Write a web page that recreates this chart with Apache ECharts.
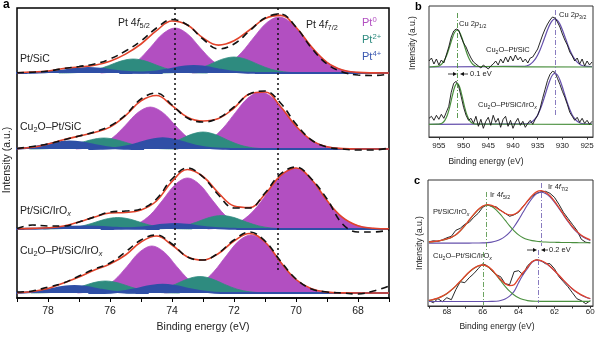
<!DOCTYPE html>
<html><head><meta charset="utf-8">
<script src="https://cdn.jsdelivr.net/npm/echarts/dist/echarts.min.js"></script>
<style>html,body{margin:0;padding:0;background:#fff}#c{width:600px;height:337px}</style>
</head><body><div id="c"></div>
<script>
// ---------- Panel a : Pt 4f ----------
const energyA = [79,78.5,78,77.5,77,76.5,76,75.5,75,74.5,74,73.5,73,72.5,72,71.5,71,70.5,70,69.5,69,68.5,68,67.5,67];
const ticksA = [67,68,69,70,71,72,73,74,75,76,77,78,79];
const labelsA = [68,70,72,74,76,78];
const namesA = ['Pt/SiC','Cu2O–Pt/SiC','Pt/SiC/IrOx','Cu2O–Pt/SiC/IrOx'];
const refLinesA = [73.9, 70.6];

const s1Raw = [0.3,0.8,2,4.5,6.5,9,14,22,32,45,53.5,48,34,24,29,42,55,59,46,25,9,1,-2,-2.5,-1];
const s1Fit = [0.3,1,2,4.5,6,7.7,11.8,18.9,29,42.3,52,48,35.1,27.9,32.2,43,54.4,57.6,45.7,26.1,10.7,3.1,0.6,0.1,0];
const s1Pt0a = [[76.3,75.9,75.5,75.1,74.7,74.3,73.9,73.5,73.1,72.7,72.3,71.9,71.5],[0,1.3,4.6,12.5,25.5,39.1,45,39.1,25.5,12.5,4.6,1.3,0]];
const s1Pt0b = [[73.35,72.95,72.55,72.15,71.75,71.35,70.95,70.55,70.15,69.75,69.35,68.95,68.55,68.15,67.75],[0,1.1,3.5,9.5,20.7,36,50.1,56,50.1,36,20.7,9.5,3.5,1.1,0]];
const s1Pt2a = [[77.65,77.25,76.85,76.45,76.05,75.65,75.25,74.85,74.45,74.05,73.65,73.25,72.85],[0,0.2,1,3.2,7.3,11.9,14,11.9,7.3,3.2,1,0.2,0]];
const s1Pt2b = [[74.4,74,73.6,73.2,72.8,72.4,72,71.6,71.2,70.8,70.4,70,69.6],[0,0.3,1.2,3.7,8.3,13.6,16,13.6,8.3,3.7,1.2,0.3,0]];
const s1Pt4a = [[79.1,78.7,78.3,77.9,77.5,77.1,76.7,76.3,75.9,75.5,75.1,74.7,74.3],[0,0.1,0.4,1.2,2.6,4.2,5,4.2,2.6,1.2,0.4,0.1,0]];
const s1Pt4b = [[75.7,75.3,74.9,74.5,74.1,73.7,73.3,72.9,72.5,72.1,71.7,71.3,70.9,67],[0,0.1,0.5,1.6,3.6,5.9,7,5.9,3.6,1.6,0.5,0.1,0,0]];

const s2Raw = [0.5,2.5,5,9,13,17,23,34,50,56,44,31,27,31,42,55,58,46,25,9,2,0,-1,-1,1];
const s2Fit = [0.4,1.8,5,9.2,12.9,16.4,21.9,33.3,48.1,53.5,43.4,31.8,28,30.4,41,55,57,42.5,22.8,8.7,2.3,0.4,0,0,0];
const s2Pt0a = [[77.1,76.7,76.3,75.9,75.5,75.1,74.7,74.3,73.9,73.5,73.1,72.7,72.3],[0,1.2,4.3,11.7,23.8,36.5,42,36.5,23.8,11.7,4.3,1.2,0]];
const s2Pt0b = [[73.95,73.55,73.15,72.75,72.35,71.95,71.55,71.15,70.75,70.35,69.95,69.55,69.15,68.75,68.35],[0,1.1,3.6,9.7,21,36.6,51,57,51,36.6,21,9.7,3.6,1.1,0]];
const s2Pt2a = [[78.6,78.2,77.8,77.4,77,76.6,76.2,75.8,75.4,75,74.6,74.2,73.8],[0,0.2,0.8,2.5,5.7,9.3,11,9.3,5.7,2.5,0.8,0.2,0]];
const s2Pt2b = [[75.4,75,74.6,74.2,73.8,73.4,73,72.6,72.2,71.8,71.4,71,70.6],[0,0.3,1.2,3.9,8.8,14.4,17,14.4,8.8,3.9,1.2,0.3,0]];
const s2Pt4a = [[79.7,79.3,78.9,78.5,78.1,77.7,77.3,76.9,76.5,76.1,75.7,75.3,74.9],[0,0.1,0.5,1.7,3.9,6.4,7.5,6.4,3.9,1.7,0.5,0.1,0]];
const s2Pt4b = [[76.7,76.3,75.9,75.5,75.1,74.7,74.3,73.9,73.5,73.1,72.7,72.3,71.9,67],[0,0.2,0.8,2.5,5.6,9.1,10.7,9.1,5.6,2.5,0.8,0.2,0,0]];

const s3Raw = [0.5,4,3,3,7,12,17,18,20,30,50,61,52,34,21,21,36,55,62,50,30,5,-3,-3,-1];
const s3Fit = [0.3,0.6,1.2,3,7,12,16,16.5,19,28,47.5,59.5,52.5,36,23,21.5,34.7,53.3,61,49.5,28.4,11.6,3.3,0.7,0.1];
const s3Pt0a = [[75.9,75.5,75.1,74.7,74.3,73.9,73.5,73.1,72.7,72.3,71.9,71.5,71.1],[0,1.5,5.3,14.2,28.9,44.3,51,44.3,28.9,14.2,5.3,1.5,0]];
const s3Pt0b = [[72.85,72.45,72.05,71.65,71.25,70.85,70.45,70.05,69.65,69.25,68.85,68.45,68.05,67.65,67.25],[0,1.2,3.8,10.4,22.5,39.2,54.6,61,54.6,39.2,22.5,10.4,3.8,1.2,0]];
const s3Pt2a = [[78.15,77.75,77.35,76.95,76.55,76.15,75.75,75.35,74.95,74.55,74.15,73.75,73.35],[0,0.2,0.8,2.6,6,9.8,11.5,9.8,6,2.6,0.8,0.2,0]];
const s3Pt2b = [[74.8,74.4,74,73.6,73.2,72.8,72.4,72,71.6,71.2,70.8,70.4,70],[0,0.2,1,3.1,7,11.5,13.5,11.5,7,3.1,1,0.2,0]];
const s3Pt4a = [[79.2,78.8,78.4,78,77.6,77.2,76.8,76.4,76,75.6,75.2,74.8,74.4],[0,0.1,0.3,0.8,1.6,2.2,2.5,2.2,1.6,0.8,0.3,0.1,0]];
const s3Pt4b = [[76.3,75.9,75.5,75.1,74.7,74.3,73.9,73.5,73.1,72.7,72.3,71.9,71.5,67],[0,0.1,0.4,1.2,2.6,4.2,5,4.2,2.6,1.2,0.4,0.1,0,0]];

const s4Raw = [1,2,6,10,17,24,30,41,53,58,49,36,33,40,53,61,52,32,14,4,1,0,-1,2,7];
const s4Fit = [0.2,1.5,4.5,10,16,23,29,38,51,57,48,36,33,39.5,52,59.5,51,31,13.5,4.2,0.9,0.1,0,0,0];
const s4Pt0a = [[77.05,76.65,76.25,75.85,75.45,75.05,74.65,74.25,73.85,73.45,73.05,72.65,72.25],[0,1.4,4.8,13.1,26.6,40.8,47,40.8,26.6,13.1,4.8,1.4,0]];
const s4Pt0b = [[74.25,73.85,73.45,73.05,72.65,72.25,71.85,71.45,71.05,70.65,70.25,69.85,69.45,69.05,68.65],[0,1.1,3.7,9.9,21.4,37.2,51.9,58,51.9,37.2,21.4,9.9,3.7,1.1,0]];
const s4Pt2a = [[78.55,78.15,77.75,77.35,76.95,76.55,76.15,75.75,75.35,74.95,74.55,74.15,73.75],[0,0.2,0.9,2.8,6.2,10.2,12,10.2,6.2,2.8,0.9,0.2,0]];
const s4Pt2b = [[75.5,75.1,74.7,74.3,73.9,73.5,73.1,72.7,72.3,71.9,71.5,71.1,70.7],[0,0.3,1.2,3.8,8.6,14,16.5,14,8.6,3.8,1.2,0.3,0]];
const s4Pt4a = [[79.55,79.15,78.75,78.35,77.95,77.55,77.15,76.75,76.35,75.95,75.55,75.15,74.75],[0,0.1,0.5,1.6,3.6,5.9,7,5.9,3.6,1.6,0.5,0.1,0]];
const s4Pt4b = [[76.7,76.3,75.9,75.5,75.1,74.7,74.3,73.9,73.5,73.1,72.7,72.3,71.9,67],[0,0.1,0.6,1.9,4.3,7,8.3,7,4.3,1.9,0.6,0.1,0,0]];

// ---------- Panel b : Cu 2p ----------
const energyB = [957,956.5,956,955.5,955,954.5,954,953.5,953,952.5,952,951.5,951,950.5,950,949.5,949,948.5,948,947.5,947,946.5,946,945.5,945,944.5,944,943.5,943,942.5,942,941.5,941,940.5,940,939.5,939,938.5,938,937.5,937,936.5,936,935.5,935,934.5,934,933.5,933,932.5,932,931.5,931,930.5,930,929.5,929,928.5,928,927.5,927,926.5,926,925.5,925,924.5,924];
const labelsB = [925,930,935,940,945,950,955];
const refLinesB = [951.3, 931.5];
const bTopRaw = [6,9,3,8,2,7,4,12,20,30, 36,38,37,30,24,20,14,9,5,3, 1,-1,2,0,-2,1,3,6,2,8, 4,10,5,11,6,12,7,10,5,8, 4,9,10,14,18,25,32,38,43,47, 50,49,45,40,33,27,22,15,11,6, 9,3,8,1,6,2,5];
const bBotRaw = [6,8,4,9,5,10,6,12,18,32, 41,43,38,28,17,9,4,6,1,8, -2,5,-4,3,7,-1,9,2,6,-3, 5,8,-2,4,-4,2,6,-1,3,-3, 1,4,0,5,9,16,26,35,44,50, 53,52,46,40,33,27,20,12,8,4, 7,2,6,1,4,0,3];
const bTopP12 = [[957,955.3,954.8,954.3,953.8,953.3,952.8,952.3,951.8,951.3,950.8,950.3,949.8,949.3,948.8,948.3,947.8,947.3,924],[0,0.6,1.6,3.7,7.5,13.3,20.8,28.7,34.7,37,34.7,28.7,20.8,13.3,7.5,3.7,1.6,0.6,0]];
const bBotP12 = [[957,955.3,954.8,954.3,953.8,953.3,952.8,952.3,951.8,951.3,950.8,950.3,949.8,949.3,948.8,948.3,947.8,947.3,924],[0,0.1,0.4,1.4,3.9,9,17.5,28.1,37.3,41,37.3,28.1,17.5,9,3.9,1.4,0.4,0.1,0]];
const bTopP32 = [[957,937.5,937,936.5,936,935.5,935,934.5,934,933.5,933,932.5,932,931.5,931,930.5,930,929.5,929,928.5,928,927.5,927,926.5,926,925.5,924],[0,0.8,1.5,2.8,4.8,7.8,12,17.3,23.6,30.5,37.2,42.9,46.7,48,46.7,42.9,37.2,30.5,23.6,17.3,12,7.8,4.8,2.8,1.5,0.8,0.5]];
const bBotP32 = [[957,937.5,937,936.5,936,935.5,935,934.5,934,933.5,933,932.5,932,931.5,931,930.5,930,929.5,929,928.5,928,927.5,927,926.5,926,925.5,924],[0,0.4,0.8,1.6,3.1,5.6,9.3,14.7,21.5,29.3,37.3,44.4,49.3,51,49.3,44.4,37.3,29.3,21.5,14.7,9.3,5.6,3.1,1.6,0.8,0.4,0.2]];

// ---------- Panel c : Ir 4f ----------
const energyC = [69,68.75,68.5,68.25,68,67.75,67.5,67.25,67,66.75,66.5,66.25,66,65.75,65.5,65.25,65,64.75,64.5,64.25,64,63.75,63.5,63.25,63,62.75,62.5,62.25,62,61.75,61.5,61.25,61,60.75,60.5,60.25,60];
const labelsC = [60,62,64,66,68];
const ticksC = [60,61,62,63,64,65,66,67,68,69];
const cTopRaw = [1.5,2.5,2,3.5,5.5,7,13,15,19,21, 26,30,36,38.5,37,36.5,33,30,27,28.5, 31,37,42,47,50,51.5,52,50,46,39, 31,25,19,13,4,1,0.5];
const cTopFit = [1.4,1.8,2.3,3.2,4.4,6,8.6,12.6,17.6,23.3, 29,33.8,37.2,38.7,38,35.7,32.8,30,28.4,29, 31.8,36.6,42.3,47.7,51.4,52.6,51.1,47.5,42.2,35.8, 29.1,22.6,16.7,11.9,8.1,5.4,3.4];
const cTopIr52 = [1.2,1.6,2.1,3,4.2,5.8,8.4,12.4,17.4,23.1, 28.7,33.5,36.8,38,36.8,33.5,28.7,23.1,17.4,12.4, 8.4,5.6,3.8,2.7,2,1.6,1.3,1.1,1,0.9, 0.8,0.75,0.7,0.65,0.6,0.55,0.5];
const cTopIr72 = [0.2,0.2,0.2,0.2,0.2,0.2,0.2,0.2,0.2,0.2, 0.25,0.3,0.4,0.7,1.2,2.2,4.1,6.9,11,16.6, 23.4,31,38.5,45,49.4,51,49.8,46.4,41.2,34.9, 28.3,21.8,16,11.2,7.5,4.8,2.9];
const cBotRaw = [1,-1,3,0,4,2,12,20,19,24, 28,33,38,36,31,27,25,18,17,30, 31,27,36,40,42,41,38,38,33,25, 20,15,9,3,1,-2,1];
const cBotFit = [1.4,2.3,3.6,5.6,8.2,11.7,15.8,20.4,25.2,29.7, 33.4,35.9,36.7,35.5,32.1,27.2,22.2,18.1,16.1,17, 23,29.2,34.3,39.9,41.9,41.1,38.9,35.5,31.2,26.4, 21.6,17.1,13,9.6,6.8,4.7,3.2];
const cBotIr52 = [1.2,2.1,3.4,5.4,8,11.5,15.6,20.2,25,29.5, 33.2,35.7,36.5,35.3,31.8,26.7,21,15.4,10.5,6.7, 4,2.2,1.1,0.6,0.4,0.3,0.3,0.3,0.3,0.3, 0.3,0.3,0.3,0.3,0.3,0.3,0.3];
const cBotIr72 = [0.2,0.2,0.2,0.2,0.2,0.2,0.2,0.2,0.2,0.2, 0.2,0.2,0.2,0.2,0.3,0.5,1.2,2.7,5.6,10.3, 19,27,33.2,39.3,41.5,40.8,38.6,35.2,30.9,26.1, 21.3,16.8,12.7,9.3,6.5,4.4,2.9];
const refLinesC = [[65.8,114,54],[62.75,123,60],[65.95,54,1],[62.9,56,3]];

// ---------- styling / layout ----------
const FONT = '"Liberation Sans", Arial, Helvetica, sans-serif';
const MAG = '#b24fc1', TEAL = '#2e8b7f', BLUE = '#2f4fa6', RED = '#e2432a';
const GRN = '#4a8f3e', PUR = '#6550ac';
const offA = [225, 149, 69, 5];
const offB = [70, 12.7];
const offC = [62.7, 4.3];

function zip(xs, ys, off) { return xs.map((x, i) => [x, ys[i] + off]); }
function areaS(g, comp, off, color, z, lw) {
  return {type:'line', xAxisIndex:g, yAxisIndex:g, data:zip(comp[0], comp[1], off), smooth:0.35,
    symbol:'none', z:z, silent:true, lineStyle:{color:color, width:lw||0.8},
    areaStyle:{color:color, opacity:1, origin:off}};
}
function lineS(g, xs, ys, off, color, width, type, z, smooth) {
  return {type:'line', xAxisIndex:g, yAxisIndex:g, data:zip(xs, ys, off), smooth:smooth, symbol:'none',
    z:z, silent:true, lineStyle:{color:color, width:width, type:type||'solid'}};
}

const series = [];
const specA = [
  [s1Raw, s1Fit, s1Pt0a, s1Pt0b, s1Pt2a, s1Pt2b, s1Pt4a, s1Pt4b],
  [s2Raw, s2Fit, s2Pt0a, s2Pt0b, s2Pt2a, s2Pt2b, s2Pt4a, s2Pt4b],
  [s3Raw, s3Fit, s3Pt0a, s3Pt0b, s3Pt2a, s3Pt2b, s3Pt4a, s3Pt4b],
  [s4Raw, s4Fit, s4Pt0a, s4Pt0b, s4Pt2a, s4Pt2b, s4Pt4a, s4Pt4b]
];
specA.forEach((s, k) => {
  const o = offA[k];
  series.push(areaS(0, s[2], o, MAG, 2));
  series.push(areaS(0, s[3], o, MAG, 2));
  series.push(areaS(0, s[4], o, TEAL, 3));
  series.push(areaS(0, s[5], o, TEAL, 3));
  series.push(areaS(0, s[6], o, BLUE, 4, 2));
  series.push(areaS(0, s[7], o, BLUE, 4, 2));
  series.push(lineS(0, energyA, s[1], o, RED, 1.6, 'solid', 5, 0.4));
  series.push(lineS(0, energyA, s[0], o, '#111', 1.6, [7,5], 6, 0.4));
});
series.push({type:'line', xAxisIndex:0, yAxisIndex:0, data:[], z:8, silent:true,
  markLine:{symbol:'none', silent:true, label:{show:false}, animation:false,
    lineStyle:{type:[2,3], color:'#111', width:1.5},
    data:[[{coord:[refLinesA[0],290]},{coord:[refLinesA[0],51]}],[{coord:[refLinesA[1],290]},{coord:[refLinesA[1],28]}]]}});

// panel b
[[bTopRaw, bTopP12, bTopP32],[bBotRaw, bBotP12, bBotP32]].forEach((s, k) => {
  const o = offB[k];
  series.push(lineS(1, s[2][0], s[2][1], o, PUR, 1.2, 'solid', 3, 0.3));
  series.push(lineS(1, s[1][0], s[1][1], o, GRN, 1.2, 'solid', 3, 0.3));
  series.push(lineS(1, energyB, s[0], o, '#111', 0.9, 'solid', 4, false));
});
series.push({type:'line', xAxisIndex:1, yAxisIndex:1, data:[], z:6, silent:true,
  markLine:{symbol:'none', silent:true, label:{show:false}, animation:false,
    data:[[{coord:[refLinesB[0],124], lineStyle:{color:GRN}},{coord:[refLinesB[0],17]}],
          [{coord:[refLinesB[1],127], lineStyle:{color:'#7a6cb8'}},{coord:[refLinesB[1],20]}]],
    lineStyle:{type:[5,2,1,2], width:0.9}}});

// panel c
[[cTopRaw, cTopFit, cTopIr52, cTopIr72],[cBotRaw, cBotFit, cBotIr52, cBotIr72]].forEach((s, k) => {
  const o = offC[k];
  series.push(lineS(2, energyC, s[0], o, '#111', 0.9, 'solid', 3, false));
  series.push(lineS(2, energyC, s[3], o, PUR, 1.1, 'solid', 4, 0.3));
  series.push(lineS(2, energyC, s[2], o, GRN, 1.1, 'solid', 4, 0.3));
  series.push(lineS(2, energyC, s[1], o, RED, 1.3, 'solid', 5, 0.3));
});
series.push({type:'line', xAxisIndex:2, yAxisIndex:2, data:[], z:6, silent:true,
  markLine:{symbol:'none', silent:true, label:{show:false}, animation:false,
    lineStyle:{type:[5,2,1,2], width:0.9},
    data: refLinesC.map((r, i) => [{coord:[r[0], r[1]], lineStyle:{color: i % 2 === 0 ? '#5c9a50' : '#7a6cb8'}},{coord:[r[0], r[2]]}])}});

function xAx(g, min, max, ticks, labels, fs, margin, tickLen) {
  return {gridIndex:g, type:'value', min:min, max:max, inverse:true,
    axisLine:{show:true, lineStyle:{color:g===0?'#000':'#333', width:g===0?1.5:1}},
    axisTick:{show:true, customValues:ticks, length:tickLen, lineStyle:{color:g===0?'#000':'#333', width:1}},
    axisLabel:{customValues:labels, fontSize:fs, fontFamily:FONT, color:'#222', margin:margin},
    splitLine:{show:false}};
}
function yAx(g, max) { return {gridIndex:g, type:'value', min:0, max:max, show:false}; }

function rich(size, color) {
  return {
    b:{fontSize:size, fontFamily:FONT, fill:color, lineHeight:size*1.3},
    i:{fontSize:size, fontFamily:FONT, fontStyle:'italic', fill:color, lineHeight:size*1.3},
    sub:{fontSize:size*0.7, fontFamily:FONT, fill:color, lineHeight:size*0.75, verticalAlign:'bottom'},
    subi:{fontSize:size*0.7, fontFamily:FONT, fontStyle:'italic', fill:color, lineHeight:size*0.75, verticalAlign:'bottom'},
    sup:{fontSize:size*0.7, fontFamily:FONT, fill:color, lineHeight:size*0.75, verticalAlign:'top'}
  };
}
function txt(x, y, text, size, color, opt) {
  opt = opt || {};
  return {type:'text', x:x, y:y, z:100, silent:true, rotation:opt.rot || 0,
    style:{text:text, fontSize:size, fontFamily:FONT, fontWeight:opt.bold ? 'bold' : 'normal',
      fill:color, align:opt.align || 'left', verticalAlign:'middle', rich:rich(size, color)}};
}
function arrow(x1, x2, y) {
  const d = x2 > x1 ? 1 : -1;
  return [
    {type:'line', z:100, silent:true, shape:{x1:x1, y1:y, x2:x2 - d*3, y2:y}, style:{stroke:'#111', lineWidth:0.8}},
    {type:'polygon', z:100, silent:true, shape:{points:[[x2, y],[x2 - d*4, y - 2],[x2 - d*4, y + 2]]}, style:{fill:'#111'}}
  ];
}

const LA = 10.5, LB = 7.5;
const graphic = [
  txt(3, 5, 'a', 12, '#000', {bold:true}),
  txt(415, 7, 'b', 11, '#000', {bold:true}),
  txt(414, 181, 'c', 11, '#000', {bold:true}),
  txt(20, 59, '{b|' + namesA[0] + '}', LA, '#222'),
  txt(20, 127, '{b|Cu}{sub|2}{b|O–Pt/SiC}', LA, '#222'),
  txt(20, 211, '{b|Pt/SiC/IrO}{subi|x}', LA, '#222'),
  txt(20, 251, '{b|Cu}{sub|2}{b|O–Pt/SiC/IrO}{subi|x}', LA, '#222'),
  txt(118, 23, '{b|Pt 4}{i|f}{sub|5/2}', LA, '#222'),
  txt(306, 25, '{b|Pt 4}{i|f}{sub|7/2}', LA, '#222'),
  txt(362, 23, '{b|Pt}{sup|0}', 11, MAG),
  txt(362, 40, '{b|Pt}{sup|2+}', 11, TEAL),
  txt(362, 57, '{b|Pt}{sup|4+}', 11, '#3a58b0'),
  txt(203, 327, 'Binding energy (eV)', LA, '#222', {align:'center'}),
  txt(7, 160, 'Intensity (a.u.)', LA, '#222', {align:'center', rot:Math.PI/2}),
  // panel b texts
  txt(459, 24, '{b|Cu 2}{i|p}{sub|1/2}', LB, '#222'),
  txt(559, 15, '{b|Cu 2}{i|p}{sub|3/2}', LB, '#222'),
  txt(486, 50, '{b|Cu}{sub|2}{b|O–Pt/SiC}', LB, '#222'),
  txt(478, 105, '{b|Cu}{sub|2}{b|O–Pt/SiC/IrO}{subi|x}', LB, '#222'),
  txt(470, 74, '0.1 eV', LB, '#222'),
  txt(486, 162, 'Binding energy (eV)', 8.5, '#222', {align:'center'}),
  txt(413, 43, 'Intensity (a.u.)', 8.5, '#222', {align:'center', rot:Math.PI/2}),
  // panel c texts
  txt(490, 195, '{b|Ir 4}{i|f}{sub|5/2}', LB, '#222'),
  txt(548, 187, '{b|Ir 4}{i|f}{sub|7/2}', LB, '#222'),
  txt(433, 212, '{b|Pt/SiC/IrO}{subi|x}', LB, '#222'),
  txt(433, 256, '{b|Cu}{sub|2}{b|O–Pt/SiC/IrO}{subi|x}', LB, '#222'),
  txt(549, 250, '0.2 eV', LB, '#222'),
  txt(497, 327, 'Binding energy (eV)', 8.5, '#222', {align:'center'}),
  txt(420, 243, 'Intensity (a.u.)', 8.5, '#222', {align:'center', rot:Math.PI/2})
].concat(arrow(448, 457, 74), arrow(468, 460, 74), arrow(527, 537, 250), arrow(548, 541, 250));

const chart = echarts.init(document.getElementById('c'), null, {renderer:'canvas'});
chart.setOption({
  animation:false,
  backgroundColor:'#fff',
  grid:[
    {left:17, top:8, width:372, height:290, show:true, borderColor:'#000', borderWidth:1.5},
    {left:429, top:6, width:164, height:131, show:true, borderColor:'#333', borderWidth:1},
    {left:428, top:180, width:165, height:126, show:true, borderColor:'#333', borderWidth:1}
  ],
  xAxis:[
    xAx(0, 67, 79, ticksA, labelsA, 10.5, 8, 4),
    xAx(1, 923.8, 957, labelsB, labelsB, 8, 5, 2.5),
    xAx(2, 59.85, 69.05, ticksC, labelsC, 8, 2, 2.5)
  ],
  yAxis:[yAx(0, 290), yAx(1, 131), yAx(2, 126)],
  series:series,
  graphic:graphic
});
</script></body></html>
